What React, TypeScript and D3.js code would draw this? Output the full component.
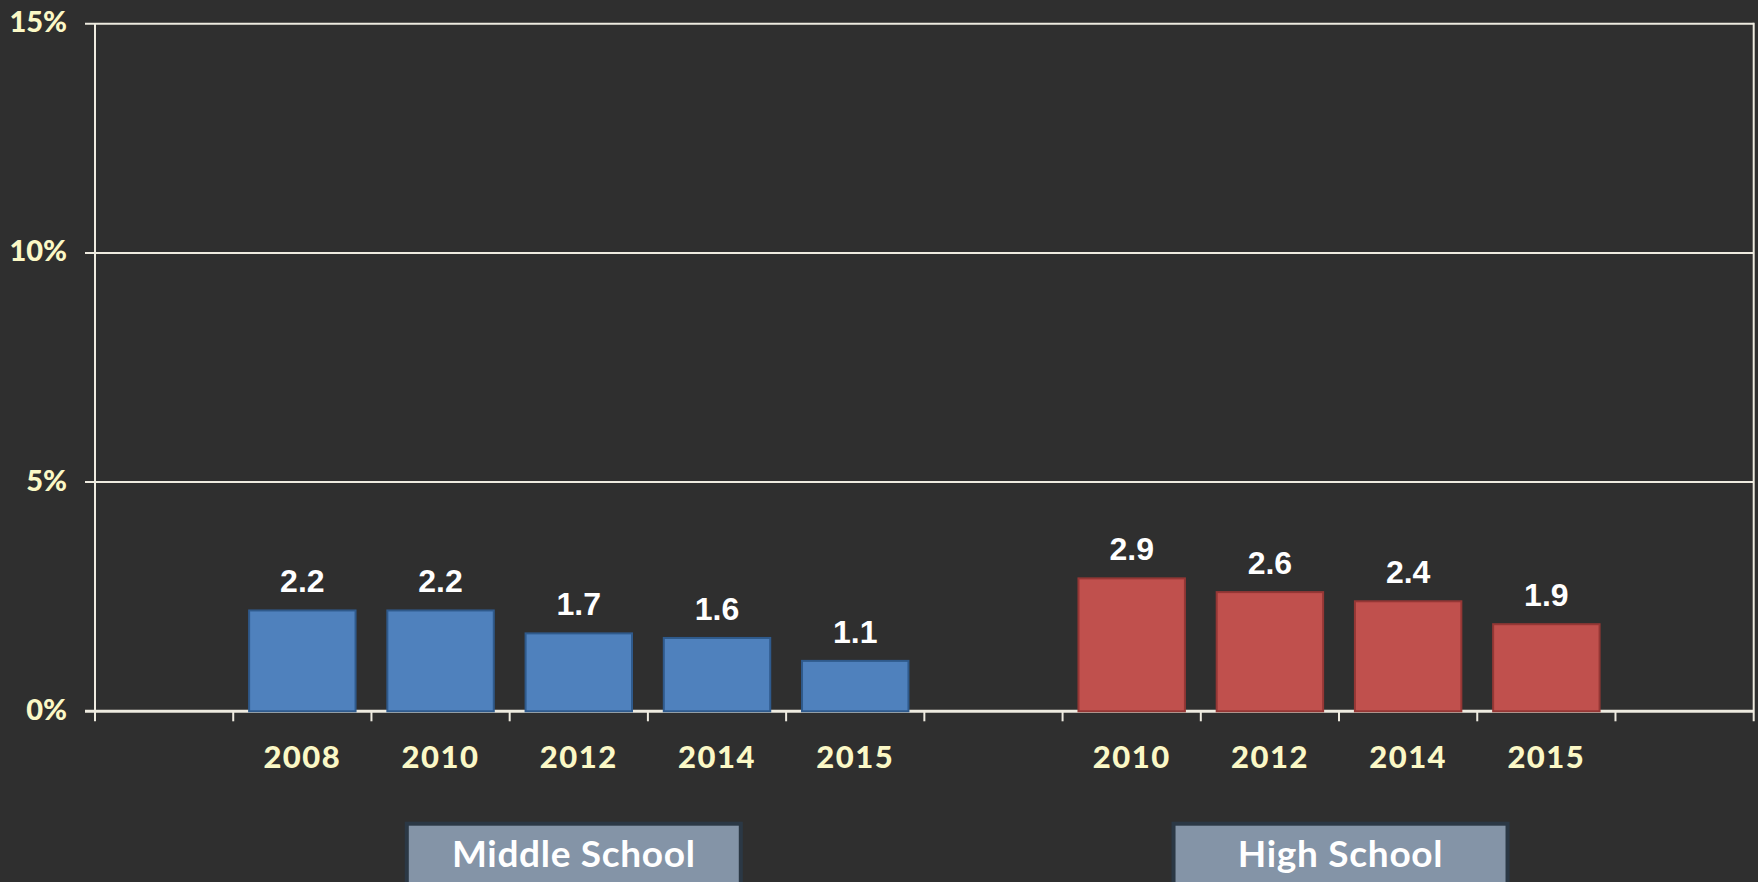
import React from "react";
import * as d3 from "d3";

const msYears = ["2008", "2010", "2012", "2014", "2015"];
const msValues = [2.2, 2.2, 1.7, 1.6, 1.1];
const hsYears = ["2010", "2012", "2014", "2015"];
const hsValues = [2.9, 2.6, 2.4, 1.9];
const yTicks = [0, 5, 10, 15];
const groupLabels = ["Middle School", "High School"];

const W = 1758;
const H = 882;
const BG = "#2f2f2f";
const LINE = "#eeebe0";
const LABEL = "#fbf8c6";

type Slot = { key: string; year?: string; value?: number; group?: number };

const slots: Slot[] = [
  { key: "gap0" },
  ...msYears.map((y, i) => ({ key: "ms" + y, year: y, value: msValues[i], group: 0 })),
  { key: "gap1" },
  ...hsYears.map((y, i) => ({ key: "hs" + y, year: y, value: hsValues[i], group: 1 })),
  { key: "gap2" },
];

export default function App() {
  const left = 95;
  const right = 1753.7;
  const top = 23.7;
  const bottom = 711.3;

  const x = d3.scaleBand<string>().domain(slots.map((s) => s.key)).range([left, right]).padding(0);
  const y = d3.scaleLinear().domain([0, 15]).range([bottom, top]);
  const bw = x.bandwidth();
  const barW = bw * 0.77;
  const colors = ["#4f81bd", "#c0504d"];
  const strokes = ["#2f5a8c", "#953735"];

  const groupRange = (g: number) => {
    const s = slots.filter((d) => d.group === g);
    const a = x(s[0].key)!;
    const b = x(s[s.length - 1].key)! + bw;
    return [a, b];
  };
  const boxW = 338;

  const boundaries = slots.map((s) => x(s.key)!);

  return (
    <svg
      width={W}
      height={H}
      style={{ position: "absolute", left: 0, top: 0, display: "block" }}
    >
      <rect x={0} y={0} width={W} height={H} fill={BG} />
      {/* gridlines */}
      {yTicks.map((t) => (
        <line
          key={"g" + t}
          x1={left - 10}
          x2={right}
          y1={y(t)}
          y2={y(t)}
          stroke={LINE}
          strokeWidth={t === 0 ? 3 : 2}
        />
      ))}
      {/* y axis */}
      <line x1={left} x2={left} y1={top} y2={bottom + 10} stroke={LINE} strokeWidth={2} />
      <line x1={right} x2={right} y1={top - 1} y2={bottom + 10} stroke={LINE} strokeWidth={2} />
      {/* category ticks */}
      {boundaries.slice(1).map((bx, i) => (
        <line key={"t" + i} x1={bx} x2={bx} y1={bottom} y2={bottom + 10} stroke={LINE} strokeWidth={2} />
      ))}
      {/* y tick labels */}
      {yTicks.map((t) => (
        <text
          key={"yl" + t}
          x={67}
          y={y(t) + 1}
          textAnchor="end"
          dominantBaseline="middle"
          fill={LABEL}
          fontFamily="Lato"
          fontWeight={900}
          fontSize={29}
        >
          {t + "%"}
        </text>
      ))}
      {/* bars */}
      {slots
        .filter((s) => s.value !== undefined)
        .map((s) => {
          const cx = x(s.key)! + bw / 2;
          const y0 = y(s.value!);
          return (
            <g key={s.key}>
              <rect
                x={cx - barW / 2}
                y={y0}
                width={barW}
                height={bottom - y0}
                fill={colors[s.group!]}
                stroke={strokes[s.group!]}
                strokeWidth={2}
              />
              <text
                x={cx}
                y={y0 - 18}
                textAnchor="middle"
                fill="#ffffff"
                fontFamily="Liberation Sans, Arial, sans-serif"
                fontWeight={700}
                fontSize={32}
              >
                {s.value!.toFixed(1)}
              </text>
              <text
                x={cx}
                y={768}
                textAnchor="middle"
                fill={LABEL}
                fontFamily="Lato"
                fontWeight={900}
                fontSize={31}
                letterSpacing={1.5}
              >
                {s.year}
              </text>
            </g>
          );
        })}
      {/* group boxes */}
      {groupLabels.map((g, i) => {
        const [a, b] = groupRange(i);
        const cx = (a + b) / 2 + (i === 0 ? -5 : 1.5);
        return (
          <g key={g}>
            <rect
              x={cx - boxW / 2 + 2}
              y={823.7}
              width={boxW - 4}
              height={100}
              fill="#8494a7"
              stroke="#2b3845"
              strokeWidth={4}
            />
            <text
              x={cx}
              y={867}
              textAnchor="middle"
              fill="#ffffff"
              fontFamily="Lato"
              fontWeight={700}
              fontSize={37}
              letterSpacing={0.7}
            >
              {g}
            </text>
          </g>
        );
      })}
    </svg>
  );
}
